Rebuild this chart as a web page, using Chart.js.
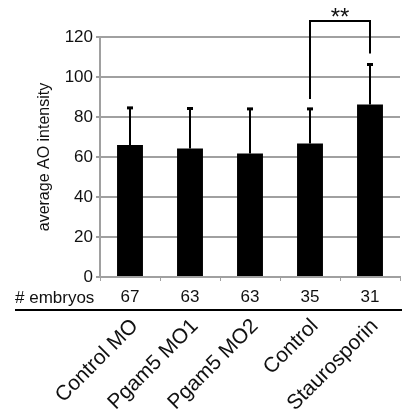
<!DOCTYPE html>
<html>
<head>
<meta charset="utf-8">
<script src="https://cdn.jsdelivr.net/npm/chart.js@4"></script>
<style>
html,body{margin:0;padding:0;background:#fff;}
canvas{display:block;}
</style>
</head>
<body>
<canvas id="c" width="402" height="414"></canvas>
<script>
// ---- data ----
const categories = ['Control MO', 'Pgam5 MO1', 'Pgam5 MO2', 'Control', 'Staurosporin'];
const meanValues = [66, 64.3, 61.8, 66.8, 86.2];
const errorValues = [18.8, 20.2, 22.5, 17.5, 20.3];
const embryoCounts = ['67', '63', '63', '35', '31'];
const countRowLabel = '# embryos';
const yTicks = [0, 20, 40, 60, 80, 100, 120];
const yAxisTitle = 'average AO intensity';
const sigFrom = 3, sigTo = 4;
const sigTop = 128, sigLeftBottom = 89, sigRightBottom = 111.8;
const sigLabel = '**';

const FONT = "'Liberation Sans', Arial, sans-serif";
const TXT = '#111';
const GRID = '#a0a0a0';

const overlay = {
  id: 'overlay',
  afterDatasetsDraw(chart) {
    const ctx = chart.ctx, xs = chart.scales.x, ys = chart.scales.y;
    ctx.save();
    ctx.strokeStyle = '#000';
    ctx.fillStyle = '#000';
    ctx.lineWidth = 2;
    meanValues.forEach((v, i) => {
      const x = xs.getPixelForValue(i);
      const y0 = ys.getPixelForValue(v);
      const y1 = ys.getPixelForValue(v + errorValues[i]);
      ctx.beginPath();
      ctx.moveTo(x, y0);
      ctx.lineTo(x, y1);
      ctx.stroke();
      ctx.fillRect(x - 3, y1 - 1, 6, 3);
    });
    ctx.restore();
  },
  afterDraw(chart) {
    const ctx = chart.ctx, xs = chart.scales.x, ys = chart.scales.y;
    ctx.save();
    // significance bracket
    const xa = xs.getPixelForValue(sigFrom), xb = xs.getPixelForValue(sigTo);
    ctx.strokeStyle = '#000';
    ctx.lineWidth = 2;
    ctx.lineJoin = 'miter';
    ctx.beginPath();
    ctx.moveTo(xa, ys.getPixelForValue(sigLeftBottom));
    ctx.lineTo(xa, ys.getPixelForValue(sigTop));
    ctx.lineTo(xb, ys.getPixelForValue(sigTop));
    ctx.lineTo(xb, ys.getPixelForValue(sigRightBottom));
    ctx.stroke();
    ctx.fillStyle = TXT;
    ctx.font = '24px ' + FONT;
    ctx.textAlign = 'center';
    ctx.textBaseline = 'middle';
    ctx.fillText(sigLabel, (xa + xb) / 2, ys.getPixelForValue(sigTop) - 3);
    // count row label and separator line
    ctx.font = '17px ' + FONT;
    ctx.textAlign = 'left';
    ctx.fillText(countRowLabel, 15, xs.top + 21);
    ctx.strokeStyle = '#000';
    ctx.lineWidth = 2;
    ctx.beginPath();
    ctx.moveTo(15, xs.bottom);
    ctx.lineTo(chart.width, xs.bottom);
    ctx.stroke();
    ctx.restore();
  }
};

function zeroPad(scale) {
  scale.paddingLeft = 0; scale.paddingRight = 0;
  scale.paddingTop = 0; scale.paddingBottom = 0;
}

new Chart(document.getElementById('c'), {
  type: 'bar',
  data: {
    labels: categories,
    datasets: [{
      data: meanValues,
      backgroundColor: '#000',
      borderWidth: 0,
      barPercentage: 0.54,
      categoryPercentage: 0.8
    }]
  },
  options: {
    responsive: false,
    animation: false,
    devicePixelRatio: 1,
    layout: { padding: { top: 37, right: 2, left: 0, bottom: 0 } },
    plugins: { legend: { display: false }, tooltip: { enabled: false } },
    scales: {
      y: {
        min: 0, max: 120,
        afterBuildTicks: (s) => { s.ticks = yTicks.map(v => ({ value: v })); },
        afterFit: (s) => { s.width = 100; zeroPad(s); },
        grid: { color: GRID, lineWidth: 2, drawTicks: true, tickLength: 4 },
        border: { color: GRID, width: 2 },
        ticks: { color: TXT, font: { family: FONT, size: 17 }, padding: 3 },
        title: { display: true, text: yAxisTitle, color: TXT,
                 font: { family: FONT, size: 16 }, padding: { top: 35, bottom: 0 } }
      },
      x: {
        weight: 0,
        afterFit: (s) => { s.height = 33; zeroPad(s); },
        grid: { drawOnChartArea: false, drawTicks: true, tickLength: 4, color: GRID, lineWidth: 1, offset: true },
        border: { color: GRID, width: 2 },
        ticks: { color: TXT, font: { family: FONT, size: 17 }, padding: 6,
                 maxRotation: 0, minRotation: 0, autoSkip: false,
                 callback: (v, i) => embryoCounts[i] }
      },
      names: {
        type: 'category',
        position: 'bottom',
        weight: 1,
        labels: categories,
        offset: true,
        afterFit: (s) => { s.height = 104; zeroPad(s); },
        grid: { display: false, drawTicks: false },
        border: { display: false },
        ticks: { color: TXT, font: { family: FONT, size: 21 }, padding: 4,
                 maxRotation: 45, minRotation: 45, autoSkip: false, labelOffset: 5 }
      }
    }
  },
  plugins: [overlay]
});
</script>
</body>
</html>
